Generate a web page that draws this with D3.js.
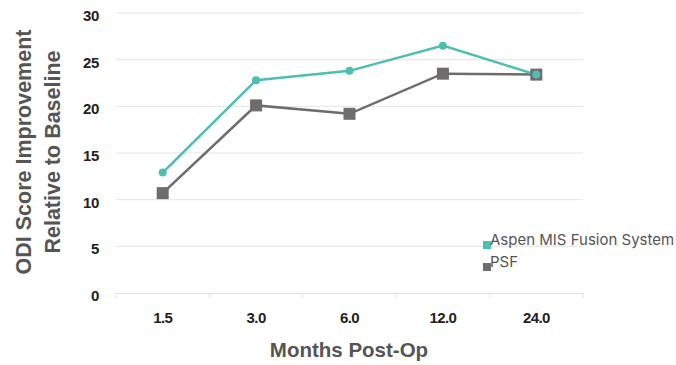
<!DOCTYPE html>
<html><head><meta charset="utf-8">
<script src="https://cdn.jsdelivr.net/npm/d3@7"></script>
<style>body{margin:0;background:#fff;}svg{display:block;}</style>
</head><body><svg id="c" width="676" height="365"></svg>
<script>
const categories = ["1.5", "3.0", "6.0", "12.0", "24.0"];
const aspen = [12.9, 22.8, 23.8, 26.5, 23.4];
const psf = [10.7, 20.1, 19.2, 23.5, 23.4];
const yTicks = [0, 5, 10, 15, 20, 25, 30];
const seriesNames = ["Aspen MIS Fusion System", "PSF"];

const teal = "#4cbfb1", gray = "#6e6c6d";
const svg = d3.select("#c");
const x = d3.scaleBand().domain(categories).range([116, 583]);
const y = d3.scaleLinear().domain([0, 30]).range([293, 13]);
const bold = "'Liberation Sans', Arial, sans-serif";
const legFont = "Inter, Roboto, sans-serif";

// gridlines
svg.append("g").selectAll("line").data(yTicks.filter(d => d > 0)).join("line")
  .attr("x1", 116).attr("x2", 583).attr("y1", d => y(d)).attr("y2", d => y(d))
  .attr("stroke", "#e4e4e4").attr("stroke-width", 1);

// x axis
const xa = svg.append("g").attr("transform", "translate(0,293)")
  .call(d3.axisBottom(x).tickSize(0));
xa.select(".domain").attr("stroke", "#e0e0e0");
xa.selectAll("text").attr("y", 30).attr("dy", null)
  .attr("font-family", bold).attr("font-weight", "700").attr("font-size", 15)
  .attr("letter-spacing", -0.6).attr("fill", "#222");
// category boundary ticks
const bounds = categories.map(c => x(c)).concat([x.range()[1]]);
svg.append("g").selectAll("line").data(bounds).join("line")
  .attr("x1", d => d).attr("x2", d => d).attr("y1", 293).attr("y2", 298)
  .attr("stroke", "#e0e0e0");

// y axis
const ya = svg.append("g").attr("transform", "translate(116,0)")
  .call(d3.axisLeft(y).tickValues(yTicks).tickSize(0));
ya.select(".domain").remove();
ya.selectAll("text").attr("x", -17).attr("dy", 7.5)
  .attr("font-family", bold).attr("font-weight", "700").attr("font-size", 15)
  .attr("letter-spacing", -0.3).attr("fill", "#222");

// titles
svg.append("text").attr("x", 349).attr("y", 357).attr("text-anchor", "middle")
  .attr("font-family", bold).attr("font-weight", "700").attr("font-size", 20.5).attr("fill", "#555")
  .text("Months Post-Op");
const yt = svg.append("text").attr("transform", "translate(0,152) rotate(-90)")
  .attr("text-anchor", "middle").attr("font-family", bold).attr("font-weight", "700")
  .attr("font-size", 21.5).attr("fill", "#555");
yt.append("tspan").attr("x", 0).attr("y", 31).text("ODI Score Improvement");
yt.append("tspan").attr("x", 0).attr("y", 60).text("Relative to Baseline");

const cx = c => x(c) + x.bandwidth() / 2;
const line = d3.line().x((d, i) => cx(categories[i])).y(d => y(d));

svg.append("path").datum(psf).attr("d", line).attr("fill", "none").attr("stroke", gray).attr("stroke-width", 2.5);
svg.append("path").datum(aspen).attr("d", line).attr("fill", "none").attr("stroke", teal).attr("stroke-width", 2.5);

svg.append("g").selectAll("rect").data(psf).join("rect")
  .attr("x", (d, i) => cx(categories[i]) - 6).attr("y", d => y(d) - 6)
  .attr("width", 12).attr("height", 12).attr("fill", gray);
svg.append("g").selectAll("circle").data(aspen).join("circle")
  .attr("cx", (d, i) => cx(categories[i])).attr("cy", d => y(d)).attr("r", 4).attr("fill", teal);

// legend
const leg = svg.append("g");
const legColors = [teal, gray];
seriesNames.forEach((n, i) => {
  const ly = 245 + i * 22;
  leg.append("rect").attr("x", 483).attr("y", ly - 4).attr("width", 8).attr("height", 8).attr("fill", legColors[i]);
  leg.append("text").attr("x", 490).attr("y", ly).attr("font-family", legFont).attr("font-size", 15)
    .attr("fill", "#555").text(n);
});
</script></body></html>
